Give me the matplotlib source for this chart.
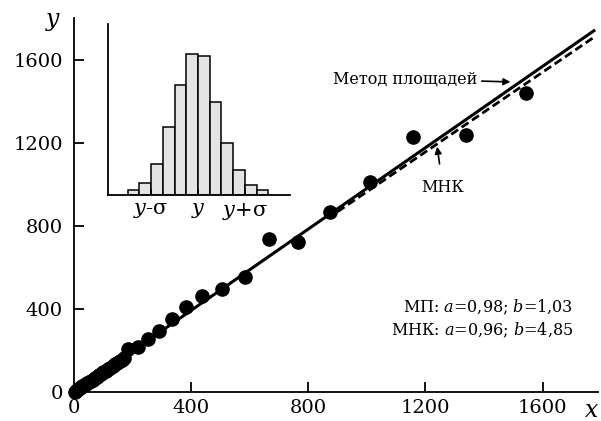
import matplotlib
matplotlib.use("Agg")
import matplotlib.pyplot as plt
import numpy as np

plt.rcParams['font.family'] = ['DejaVu Serif']
plt.rcParams['mathtext.fontset'] = 'dejavuserif'

# measured points (x, y)
x_pts = [2, 6, 10, 14, 19, 24, 29, 34, 40, 46, 52, 58, 64, 71, 78, 85, 92,
         100, 108, 116, 124, 132, 140, 148, 156, 164, 172,
         185, 219, 251, 291, 333, 381, 436, 507, 584, 667, 765, 874, 1010,
         1158, 1340, 1542]
y_pts = [1, 5, 9, 13, 17, 22, 27, 32, 37, 43, 49, 55, 60, 67, 74, 80, 87,
         95, 102, 110, 118, 126, 133, 141, 148, 156, 164,
         208, 218, 254, 294, 350, 408, 463, 496, 553, 737, 724, 868, 1013,
         1227, 1239, 1440]

# fitted lines y = a*x + b
a_mp, b_mp = 0.98, 1.03
a_mnk, b_mnk = 0.96, 4.85
x_line_mp = [0, 1775]
x_line_mnk = [900, 1775]

# inset histogram counts
hist_counts = [5, 12, 31, 68, 110, 141, 139, 93, 52, 25, 10, 5]
hist_ticks = [2, 6, 10]
hist_labels = ['$y$-σ', '$y$', '$y$+σ']

fig = plt.figure(figsize=(6.01, 4.21), dpi=100)
ax = fig.add_axes([0.1231, 0.0689, 0.8719, 0.8884])

xm = np.array(x_line_mnk)
xp = np.array(x_line_mp)
ax.plot(xm, a_mnk * xm + b_mnk, color='black', lw=2.0, ls=(0, (3, 1.5)))
ax.plot(xp, a_mp * xp + b_mp, color='black', lw=2.2)
ax.plot(x_pts, y_pts, 'o', color='black', ms=9.5, clip_on=False)

ax.set_xlim(0, 1789)
ax.set_ylim(0, 1802)
ax.set_xticks([0, 400, 800, 1200, 1600])
ax.set_yticks([0, 400, 800, 1200, 1600])
for s in ['top', 'right']:
    ax.spines[s].set_visible(False)
for s in ['left', 'bottom']:
    ax.spines[s].set_linewidth(1.3)
ax.tick_params(direction='in', length=7, width=1.3, labelsize=14)
ax.tick_params(axis='x', pad=5)
ax.tick_params(axis='y', pad=8)

fig.text(0.089, 0.950, '$y$', fontsize=17, ha='center', va='center')
fig.text(0.985, 0.024, '$x$', fontsize=17, ha='center', va='center')

ax.annotate('Метод площадей', xy=(1490, 1494), xytext=(1378, 1508),
            ha='right', va='center', fontsize=11.5,
            arrowprops=dict(arrowstyle='-|>', color='black', lw=1.2,
                            mutation_scale=10, shrinkA=1, shrinkB=0))
ax.annotate('МНК', xy=(1240, 1182), xytext=(1259, 985),
            ha='center', va='center', fontsize=11.5,
            arrowprops=dict(arrowstyle='-|>', color='black', lw=1.2,
                            mutation_scale=10, shrinkA=9, shrinkB=0))

ax.text(0.952, 0.227, 'МП: $a$=0,98; $b$=1,03', transform=ax.transAxes,
        ha='right', va='center', fontsize=11.5)
ax.text(0.952, 0.166, 'МНК: $a$=0,96; $b$=4,85', transform=ax.transAxes,
        ha='right', va='center', fontsize=11.5)

# inset
ins = fig.add_axes([0.1797, 0.5368, 0.3028, 0.4062])
ins.bar(np.arange(len(hist_counts)), hist_counts, width=1.0, align='edge',
        color='#e4e4e4', edgecolor='black', linewidth=1.1)
ins.set_xlim(-1.68, 13.85)
ins.set_ylim(0, 171)
ins.set_yticks([])
ins.set_xticks(hist_ticks)
ins.set_xticklabels(hist_labels)
ins.tick_params(axis='x', direction='in', length=4, width=1.2, labelsize=15, pad=4)
for s in ['top', 'right']:
    ins.spines[s].set_visible(False)
for s in ['left', 'bottom']:
    ins.spines[s].set_linewidth(1.3)
ins.patch.set_alpha(0)

fig.savefig('out.png', dpi=100)
